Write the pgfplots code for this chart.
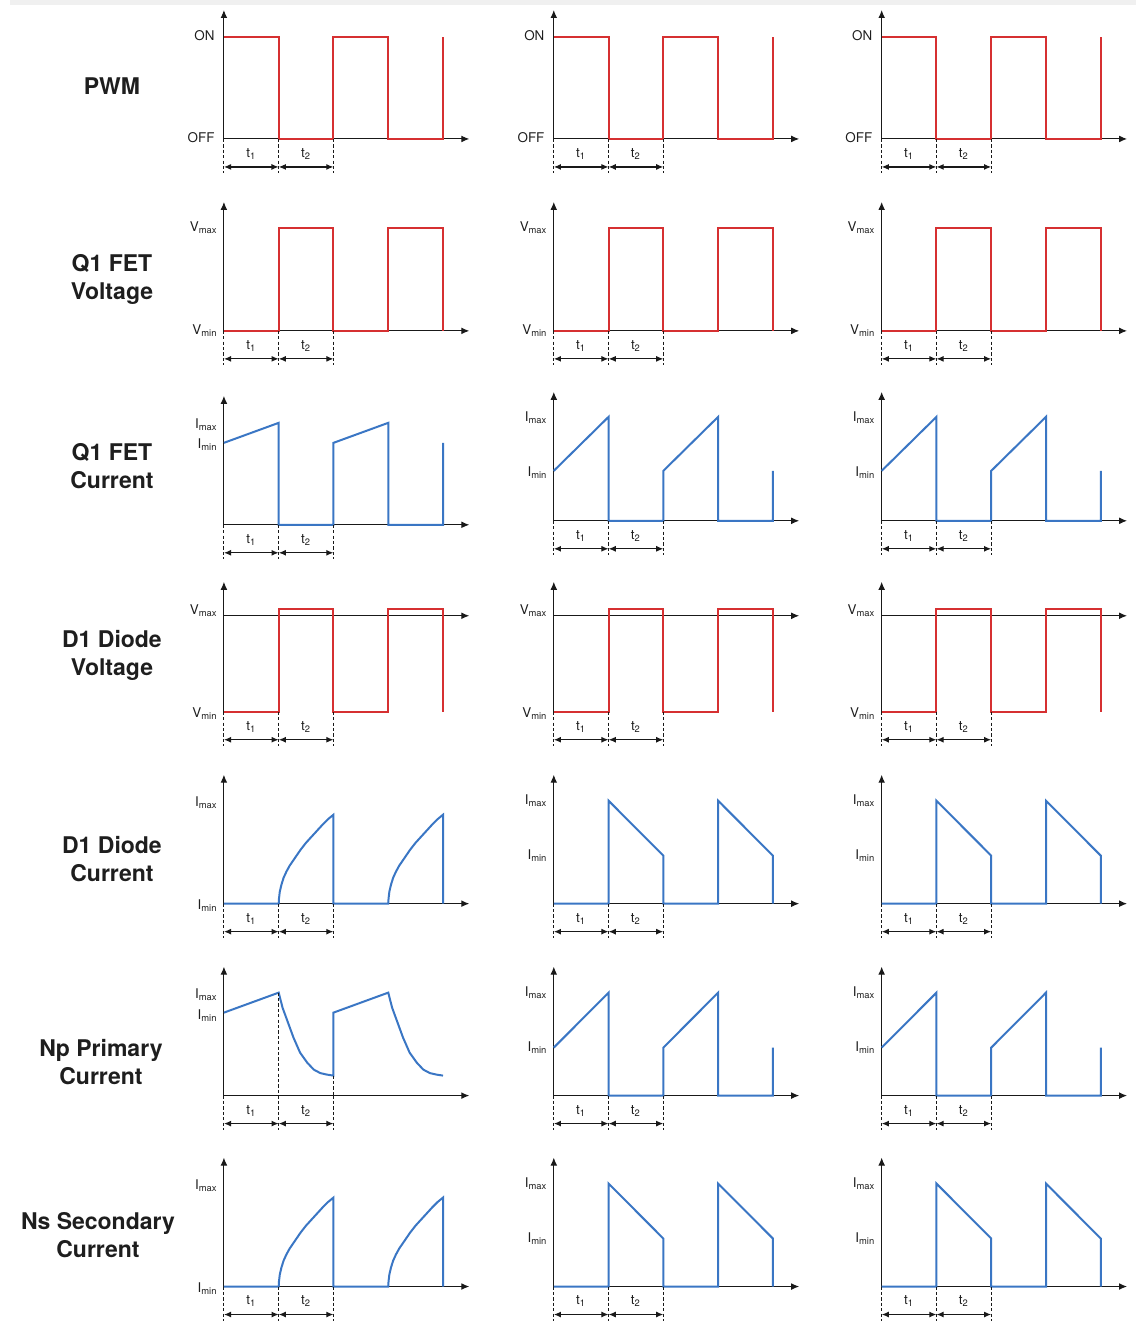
\documentclass[border=0pt]{standalone}
\usepackage{pgfplots}
\pgfplotsset{compat=1.18}
\usepackage{fontspec}
\setmainfont{TeX Gyre Heros}
\usetikzlibrary{arrows.meta}

\definecolor{wred}{RGB}{214,48,49}
\definecolor{wblue}{RGB}{58,118,196}
\definecolor{axcol}{RGB}{25,25,25}
\definecolor{txt}{RGB}{30,30,30}

\newcommand\lab{\fontsize{6.7}{7.5}\selectfont}
\newcommand\rowlab{\fontsize{11.5}{14}\selectfont\bfseries}

\pgfplotsset{
  wave/.style={
    anchor=origin, x=27.4pt, y=0.5pt,
    xmin=0, xmax=4.48, ymin=0, ymax=129,
    axis lines=middle,
    axis line style={axcol, line width=0.55pt, -{Latex[length=4pt,width=3.4pt]}},
    xtick=\empty, ytick=\empty, clip=false,
  },
  red wave/.style={wred, line width=1pt, no marks},
  blue wave/.style={wblue, line width=1pt, no marks},
}

% label on the y axis
\newcommand\ylab[3][-3pt]{\node[anchor=base east, inner sep=0pt, xshift=#1, yshift=-2pt,
  font=\lab, text=txt] at (axis cs:0,#2) {#3};}
% t1 / t2 markers below a baseline
\newcommand\tmarks[1]{%
  \draw[axcol, line width=0.5pt, dash pattern=on 1.6pt off 1.1pt] (axis cs:0,#1) -- (axis cs:0,{#1-34});
  \draw[axcol, line width=0.5pt, dash pattern=on 1.6pt off 1.1pt] (axis cs:1,#1) -- (axis cs:1,{#1-34});
  \draw[axcol, line width=0.5pt, dash pattern=on 1.6pt off 1.1pt] (axis cs:2,#1) -- (axis cs:2,{#1-34});
  \draw[axcol, line width=0.6pt, {Latex[length=3.6pt,width=3pt]}-{Latex[length=3.6pt,width=3pt]}]
    (axis cs:0,{#1-28}) -- (axis cs:1,{#1-28});
  \draw[axcol, line width=0.6pt, {Latex[length=3.6pt,width=3pt]}-{Latex[length=3.6pt,width=3pt]}]
    (axis cs:1,{#1-28}) -- (axis cs:2,{#1-28});
  \node[font=\lab, text=txt, inner sep=0pt] at (axis cs:0.5,{#1-15}) {t\textsubscript{1}};
  \node[font=\lab, text=txt, inner sep=0pt] at (axis cs:1.5,{#1-15}) {t\textsubscript{2}};
}

\begin{document}
\begin{tikzpicture}
\path (0,0) rectangle (571pt,-660.5pt);
\fill[gray!12] (5pt,0) rectangle (568pt,-2.5pt);

% row labels
\node[font=\rowlab, text=txt, align=center] at (56pt,-43pt) {PWM};
\node[font=\rowlab, text=txt, align=center] at (56pt,-139.75pt) {Q1 FET\\Voltage};
\node[font=\rowlab, text=txt, align=center] at (56pt,-233pt) {Q1 FET\\Current};
\node[font=\rowlab, text=txt, align=center] at (56pt,-328pt) {D1 Diode\\Voltage};
\node[font=\rowlab, text=txt, align=center] at (56pt,-429.5pt) {D1 Diode\\Current};
\node[font=\rowlab, text=txt, align=center] at (50.5pt,-531pt) {Np Primary\\Current};
\node[font=\rowlab, text=txt, align=center] at (49pt,-618pt) {Ns Secondary\\Current};

% ---------- row 1: PWM ----------
\foreach \cx in {112pt,277pt,441pt}{
\begin{axis}[wave, at={(\cx,-69.5pt)}]
\addplot[red wave] coordinates {(0,102)(1,102)(1,0)(2,0)(2,102)(3,102)(3,0)(4,0)(4,102)};
\ylab[-4.5pt]{102}{ON}
\ylab[-4.5pt]{0}{OFF}
\tmarks{0}
\end{axis}
}

% ---------- row 2: Q1 FET voltage ----------
\foreach \cx in {112pt,277pt,441pt}{
\begin{axis}[wave, at={(\cx,-165.5pt)}]
\addplot[red wave] coordinates {(0,0)(1,0)(1,103)(2,103)(2,0)(3,0)(3,103)(4,103)(4,0)};
\ylab{103}{V\textsubscript{max}}
\ylab{0}{V\textsubscript{min}}
\tmarks{0}
\end{axis}
}

% ---------- row 3: Q1 FET current ----------
\begin{axis}[wave, at={(112pt,-262.5pt)}]
\addplot[blue wave] coordinates {(0,82)(1,102)(1,0)(2,0)(2,82)(3,102)(3,0)(4,0)(4,82)};
\ylab{100}{I\textsubscript{max}}
\ylab{80}{I\textsubscript{min}}
\tmarks{0}
\end{axis}
\foreach \cx in {277pt,441pt}{
\begin{axis}[wave, at={(\cx,-260.5pt)}]
\addplot[blue wave] coordinates {(0,50)(1,104)(1,0)(2,0)(2,50)(3,104)(3,0)(4,0)(4,50)};
\ylab{103}{I\textsubscript{max}}
\ylab{48}{I\textsubscript{min}}
\tmarks{0}
\end{axis}
}

% ---------- row 4: D1 diode voltage ----------
\foreach \cx in {112pt,277pt,441pt}{
\begin{axis}[wave, at={(\cx,-308pt)}, ymin=-96, ymax=34]
\addplot[red wave] coordinates {(0,-96)(1,-96)(1,7)(2,7)(2,-96)(3,-96)(3,7)(4,7)(4,-96)};
\ylab{5}{V\textsubscript{max}}
\ylab{-98}{V\textsubscript{min}}
\tmarks{-96}
\end{axis}
}

% ---------- row 5: D1 diode current ----------
\begin{axis}[wave, at={(112pt,-452pt)}]
\addplot[blue wave] coordinates {(0,0)(1,0)(1.005,5)(1.02,12)(1.05,19)(1.09,26)(1.14,32)(1.2,38)
  (1.3,46)(1.4,54)(1.5,61)(1.6,67)(1.7,73)(1.8,79)(1.9,84.5)(2,89)(2,0)
  (3,0)(3.005,5)(3.02,12)(3.05,19)(3.09,26)(3.14,32)(3.2,38)
  (3.3,46)(3.4,54)(3.5,61)(3.6,67)(3.7,73)(3.8,79)(3.9,84.5)(4,89)(4,0)};
\ylab{101}{I\textsubscript{max}}
\ylab{-2}{I\textsubscript{min}}
\tmarks{0}
\end{axis}
\foreach \cx in {277pt,441pt}{
\begin{axis}[wave, at={(\cx,-452pt)}]
\addplot[blue wave] coordinates {(0,0)(1,0)(1,103)(2,48)(2,0)(3,0)(3,103)(4,48)(4,0)};
\ylab{103}{I\textsubscript{max}}
\ylab{48}{I\textsubscript{min}}
\tmarks{0}
\end{axis}
}

% ---------- row 6: Np primary current ----------
\begin{axis}[wave, at={(112pt,-548pt)}]
\addplot[blue wave] coordinates {(0,83)(1,103)(1.07,88)(1.15,76)(1.27,58)(1.39,43)(1.52,33)
  (1.64,26)(1.76,22.5)(1.88,21)(2,20)(2,83)(3,103)(3.07,88)(3.15,76)(3.27,58)(3.39,43)
  (3.52,33)(3.64,26)(3.76,22.5)(3.88,21)(4,20)};
\draw[axcol, line width=0.5pt, dash pattern=on 1.6pt off 1.1pt] (axis cs:1,103) -- (axis cs:1,0);
\draw[axcol, line width=0.5pt, dash pattern=on 1.6pt off 1.1pt] (axis cs:2,20) -- (axis cs:2,0);
\ylab{101}{I\textsubscript{max}}
\ylab{80}{I\textsubscript{min}}
\tmarks{0}
\end{axis}
\foreach \cx in {277pt,441pt}{
\begin{axis}[wave, at={(\cx,-548pt)}]
\addplot[blue wave] coordinates {(0,48)(1,103)(1,0)(2,0)(2,48)(3,103)(3,0)(4,0)(4,48)};
\ylab{103}{I\textsubscript{max}}
\ylab{48}{I\textsubscript{min}}
\tmarks{0}
\end{axis}
}

% ---------- row 7: Ns secondary current ----------
\begin{axis}[wave, at={(112pt,-643.5pt)}]
\addplot[blue wave] coordinates {(0,0)(1,0)(1.005,5)(1.02,12)(1.05,19)(1.09,26)(1.14,32)(1.2,38)
  (1.3,46)(1.4,54)(1.5,61)(1.6,67)(1.7,73)(1.8,79)(1.9,84.5)(2,89)(2,0)
  (3,0)(3.005,5)(3.02,12)(3.05,19)(3.09,26)(3.14,32)(3.2,38)
  (3.3,46)(3.4,54)(3.5,61)(3.6,67)(3.7,73)(3.8,79)(3.9,84.5)(4,89)(4,0)};
\ylab{101}{I\textsubscript{max}}
\ylab{-2}{I\textsubscript{min}}
\tmarks{0}
\end{axis}
\foreach \cx in {277pt,441pt}{
\begin{axis}[wave, at={(\cx,-643.5pt)}]
\addplot[blue wave] coordinates {(0,0)(1,0)(1,103)(2,48)(2,0)(3,0)(3,103)(4,48)(4,0)};
\ylab{103}{I\textsubscript{max}}
\ylab{48}{I\textsubscript{min}}
\tmarks{0}
\end{axis}
}
\end{tikzpicture}
\end{document}
